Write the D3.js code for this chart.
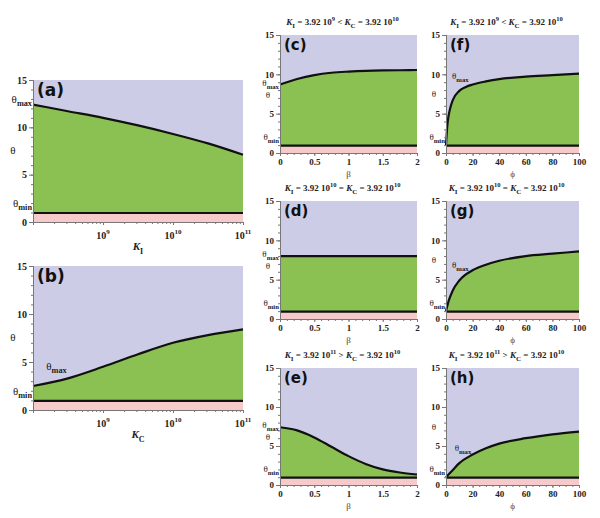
<!DOCTYPE html>
<html>
<head>
<meta charset="utf-8">
<script src="https://cdn.jsdelivr.net/npm/d3@7"></script>
<style>
body { margin: 0; background: #fff; }
text { font-family: "Liberation Serif", "DejaVu Serif", serif; }
</style>
</head>
<body>
<svg id="fig" width="600" height="518"></svg>
<script>
(function() {

// ---- data ----
var kValues = [1e8, 3.16e8, 1e9, 3.16e9, 1e10, 3.16e10, 1e11]
var thetaMaxA = [12.4, 11.7, 11.0, 10.2, 9.3, 8.3, 7.1]
var thetaMaxB = [2.5, 3.3, 4.5, 5.8, 7.0, 7.8, 8.4]

var beta = [0, 0.25, 0.5, 0.75, 1, 1.25, 1.5, 1.75, 2]
var thetaMaxC = [8.7, 9.4, 9.9, 10.2, 10.35, 10.45, 10.5, 10.52, 10.55]
var thetaMaxD = [8.0, 8.0, 8.0, 8.0, 8.0, 8.0, 8.0, 8.0, 8.0]
var thetaMaxE = [7.4, 7.0, 6.1, 4.9, 3.7, 2.7, 2.0, 1.6, 1.35]

var phiF = [0, 1, 2, 3, 5, 10, 15, 20, 30, 40, 60, 80, 100]
var thetaMaxF = [1.0, 3.5, 4.8, 5.6, 6.7, 7.9, 8.4, 8.7, 9.1, 9.4, 9.7, 9.9, 10.1]
var phiG = [0, 2, 5, 10, 20, 30, 40, 60, 80, 100]
var thetaMaxG = [1.0, 2.3, 3.6, 4.9, 6.2, 6.9, 7.4, 8.0, 8.3, 8.6]
var phiH = [0, 5, 10, 20, 30, 40, 60, 80, 100]
var thetaMaxH = [1.0, 1.9, 2.8, 3.9, 4.7, 5.3, 6.0, 6.5, 6.85]

var thetaMin = 0.95
var thetaTicks = [0, 5, 10, 15]
var logTicks = [1e9, 1e10, 1e11]
var betaTicks = [0, 0.5, 1, 1.5, 2]
var phiTicks = [0, 20, 40, 60, 80, 100]

// titles: [K_I exponent, relation, K_C exponent]
var titles = [["9", "<", "10"], ["10", "=", "10"], ["11", ">", "10"]]

var lavender = "#CCCCE6", green = "#8BC152", pink = "#F6CACA"

var svg = d3.select("#fig")

var cols = { big: [33, 243], mid: [280, 417], right: [446, 579] }
var rows = { a: [80, 222], b: [266, 410], r1: [35, 153], r2: [201, 319], r3: [368, 485] }

var panels = [
    {tag: "(a)", xs: kValues, ys: thetaMaxA, col: "big", row: "a", kind: "log", xlab: "I", maxLab: "axis", big: true},
    {tag: "(b)", xs: kValues, ys: thetaMaxB, col: "big", row: "b", kind: "log", xlab: "C", maxLab: [1.55e8, 4.2], big: true},
    {tag: "(c)", xs: beta, ys: thetaMaxC, col: "mid", row: "r1", kind: "beta", title: 0, maxLab: "axis"},
    {tag: "(d)", xs: beta, ys: thetaMaxD, col: "mid", row: "r2", kind: "beta", title: 1, maxLab: "axis"},
    {tag: "(e)", xs: beta, ys: thetaMaxE, col: "mid", row: "r3", kind: "beta", title: 2, maxLab: "axis"},
    {tag: "(f)", xs: phiF, ys: thetaMaxF, col: "right", row: "r1", kind: "phi", title: 0, maxLab: [4.5, 9.4]},
    {tag: "(g)", xs: phiG, ys: thetaMaxG, col: "right", row: "r2", kind: "phi", title: 1, maxLab: [4.5, 6.5]},
    {tag: "(h)", xs: phiH, ys: thetaMaxH, col: "right", row: "r3", kind: "phi", title: 2, maxLab: [6.5, 4.4]}
]

function thetaLabel(g, x, y, sub, anchor, size) {
    var t = g.append("text")
        .attr("x", x).attr("y", y)
        .attr("text-anchor", anchor)
        .attr("font-size", size)
        .attr("fill", "#222")
    t.append("tspan").text("θ")
    t.append("tspan").attr("dy", 3).attr("font-size", size * 0.75).attr("font-weight", "bold").text(sub)
}

function styleAxis(a, fs) {
    a.attr("font-family", "Liberation Serif")
    a.select(".domain").attr("stroke", "#777")
    a.selectAll(".tick line").attr("stroke", "#777")
    a.selectAll("text").attr("font-size", fs).attr("font-weight", "bold").attr("fill", "#222")
}

function drawPanel(p) {
    var xr = cols[p.col], yr = rows[p.row]
    var fs = p.big ? 10 : 9
    var x
    if (p.kind == "log") x = d3.scaleLog().domain([1e8, 1e11]).range(xr)
    else if (p.kind == "beta") x = d3.scaleLinear().domain([0, 2]).range(xr)
    else x = d3.scaleLinear().domain([0, 100]).range(xr)
    var y = d3.scaleLinear().domain([0, 15]).range([yr[1], yr[0]])

    var g = svg.append("g")
    var pts = p.xs.map((d, i) => [d, p.ys[i]])

    g.append("rect").attr("x", xr[0]).attr("y", yr[0])
        .attr("width", xr[1] - xr[0]).attr("height", yr[1] - yr[0])
        .attr("fill", lavender)

    g.append("path").datum(pts)
        .attr("fill", green)
        .attr("d", d3.area().curve(d3.curveMonotoneX)
            .x(d => x(d[0])).y0(y(thetaMin)).y1(d => y(d[1])))

    g.append("rect").attr("x", xr[0]).attr("y", y(thetaMin))
        .attr("width", xr[1] - xr[0]).attr("height", y(0) - y(thetaMin))
        .attr("fill", pink)

    g.append("path").datum(pts)
        .attr("fill", "none").attr("stroke", "#111").attr("stroke-width", 2.2)
        .attr("d", d3.line().curve(d3.curveMonotoneX).x(d => x(d[0])).y(d => y(d[1])))

    g.append("line")
        .attr("x1", xr[0]).attr("x2", xr[1])
        .attr("y1", y(thetaMin)).attr("y2", y(thetaMin))
        .attr("stroke", "#111").attr("stroke-width", 2.2)

    // y axis
    var yMinor = g.append("g").attr("transform", `translate(${xr[0]},0)`)
        .call(d3.axisLeft(y).tickValues(d3.range(0, 16)).tickSize(2).tickFormat(""))
    var yAx = g.append("g").attr("transform", `translate(${xr[0]},0)`)
        .call(d3.axisLeft(y).tickValues(thetaTicks).tickSize(4).tickPadding(2))
    styleAxis(yMinor, fs)
    styleAxis(yAx, fs)

    // x axis
    var xMinorVals, xAxis
    if (p.kind == "log") {
        xMinorVals = []
        for (var e = 8; e < 11; e++)
            for (var m = 1; m < 10; m++) xMinorVals.push(m * Math.pow(10, e))
        xAxis = d3.axisBottom(x).tickValues(logTicks).tickSize(3).tickFormat("")
    } else if (p.kind == "beta") {
        xMinorVals = d3.range(0, 2.01, 0.1)
        xAxis = d3.axisBottom(x).tickValues(betaTicks).tickSize(3).tickFormat(d3.format("~g"))
    } else {
        xMinorVals = d3.range(0, 101, 5)
        xAxis = d3.axisBottom(x).tickValues(phiTicks).tickSize(3).tickFormat(d3.format("~g"))
    }
    var xMinor = g.append("g").attr("transform", `translate(0,${yr[1]})`)
        .call(d3.axisBottom(x).tickValues(xMinorVals).tickSize(2).tickFormat(""))
    var xAx = g.append("g").attr("transform", `translate(0,${yr[1]})`).call(xAxis)
    styleAxis(xMinor, fs)
    styleAxis(xAx, fs)

    if (p.kind == "log") {
        logTicks.forEach(v => {
            var t = g.append("text").attr("x", x(v)).attr("y", yr[1] + 17)
                .attr("text-anchor", "middle").attr("font-size", 10).attr("font-weight", "bold").attr("fill", "#222")
            t.append("tspan").text("10")
            t.append("tspan").attr("dy", -5).attr("font-size", 7).text(Math.round(Math.log10(v)))
        })
        var lab = g.append("text").attr("x", (xr[0] + xr[1]) / 2).attr("y", yr[1] + 28)
            .attr("text-anchor", "middle").attr("font-size", 11).attr("font-weight", "bold").attr("fill", "#222")
        lab.append("tspan").attr("font-style", "italic").text("K")
        lab.append("tspan").attr("dy", 4).attr("font-size", 8).text(p.xlab)
    } else {
        g.append("text").attr("x", (xr[0] + xr[1]) / 2).attr("y", yr[1] + 24)
            .attr("text-anchor", "middle").attr("font-size", 9).attr("fill", "#444")
            .text(p.kind == "beta" ? "β" : "ϕ")
    }

    // theta labels on the left
    var lsize = p.big ? 11 : 9
    var lx = xr[0] - (p.big ? 20 : 12)
    var ly = y(7.5) + 3
    if (p.maxLab == "axis" && Math.abs(p.ys[0] - 7.5) < 1.5) ly = y(p.ys[0]) + 13
    g.append("text").attr("x", lx).attr("y", ly)
        .attr("text-anchor", "middle").attr("font-size", lsize).attr("fill", "#222").text("θ")
    thetaLabel(g, xr[0] - 1, y(thetaMin) - 6, "min", "end", lsize)
    if (p.maxLab == "axis") thetaLabel(g, xr[0] - 1, y(p.ys[0]) + (p.big ? -2 : 1), "max", "end", lsize)
    else thetaLabel(g, x(p.maxLab[0]), y(p.maxLab[1]), "max", "start", lsize)

    // panel tag
    g.append("text").attr("x", xr[0] + 4).attr("y", yr[0] + (p.big ? 16 : 15))
        .attr("font-size", p.big ? 17 : 15).attr("font-weight", "bold")
        .style("font-family", "DejaVu Sans").attr("fill", "#111").text(p.tag)

    if (p.title != null) {
        var tt = titles[p.title]
        var t = g.append("text").attr("x", (xr[0] + xr[1]) / 2 - 6).attr("y", yr[0] - 10)
            .attr("text-anchor", "middle").attr("font-size", 9).attr("font-weight", "bold").attr("fill", "#222")
        t.append("tspan").attr("font-style", "italic").text("K")
        t.append("tspan").attr("dy", 3).attr("font-size", 7).text("I")
        t.append("tspan").attr("dy", -3).text(" = 3.92 10")
        t.append("tspan").attr("dy", -4).attr("font-size", 6.5).text(tt[0])
        t.append("tspan").attr("dy", 4).text("  " + tt[1] + "  ")
        t.append("tspan").attr("font-style", "italic").text("K")
        t.append("tspan").attr("dy", 3).attr("font-size", 7).text("C")
        t.append("tspan").attr("dy", -3).text(" = 3.92 10")
        t.append("tspan").attr("dy", -4).attr("font-size", 6.5).text(tt[2])
    }
}

panels.forEach(drawPanel)

})()
</script>
</body>
</html>
